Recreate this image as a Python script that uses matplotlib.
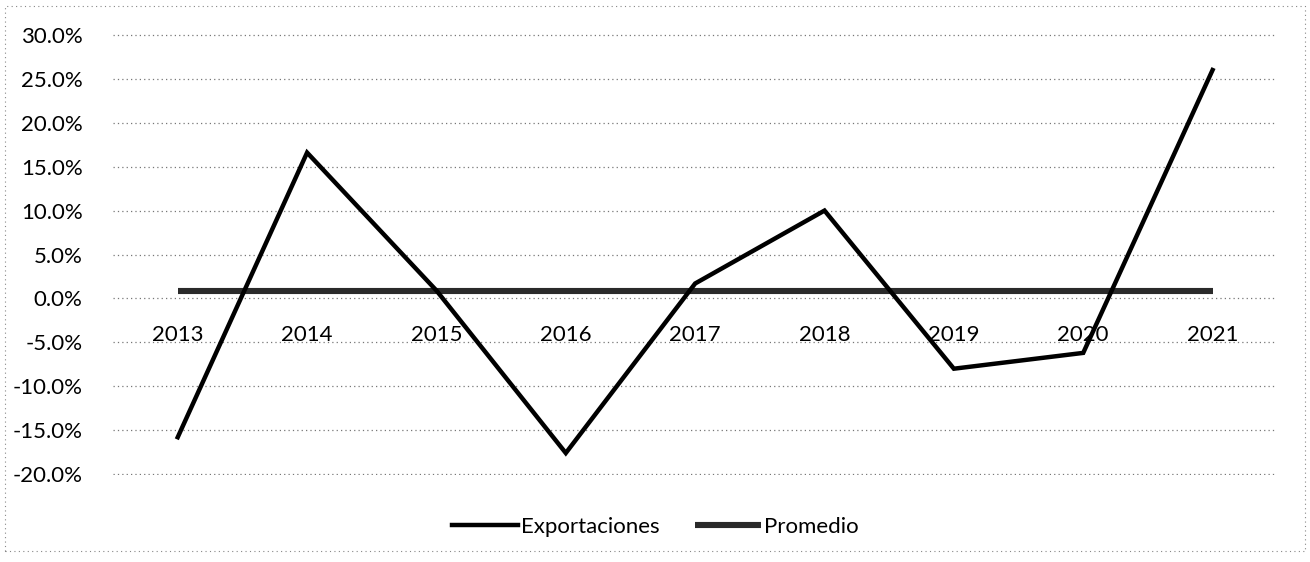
import matplotlib.pyplot as plt
from matplotlib.ticker import PercentFormatter
from matplotlib.patches import Rectangle

# Data
years = ['2013', '2014', '2015', '2016', '2017', '2018', '2019', '2020', '2021']
exportaciones = [-15.8, 16.6, 0.9, -17.6, 1.7, 10.0, -8.0, -6.2, 26.0]
promedio = [0.9] * len(years)
yticks = [30, 25, 20, 15, 10, 5, 0, -5, -10, -15, -20]

plt.rcParams['font.family'] = ['Lato', 'DejaVu Sans']
plt.rcParams['axes.unicode_minus'] = False

fig = plt.figure(figsize=(13.1, 5.62), dpi=100)
ax = fig.add_axes([0.0863, 0.1548, 0.8887, 0.7847])

x = range(len(years))
ax.plot(x, promedio, color='#2a2a2a', linewidth=4.4, solid_capstyle='butt',
        label='Promedio', zorder=2)
ax.plot(x, exportaciones, color='black', linewidth=3.2, solid_joinstyle='miter',
        label='Exportaciones', zorder=3)

ax.set_xlim(-0.5, len(years) - 0.5)
ax.set_ylim(-20.1, 30.1)
ax.set_yticks(yticks)
ax.yaxis.set_major_formatter(PercentFormatter(decimals=1))
ax.grid(axis='y', color='#777777', linestyle=(0, (1, 2.5)), linewidth=0.9)
ax.set_axisbelow(True)

# category labels sit next to the 0% line, like Excel does
ax.spines['bottom'].set_position(('data', 0))
ax.set_xticks(list(x))
ax.set_xticklabels(years, fontsize=16)
ax.tick_params(axis='x', length=0, pad=19)
ax.tick_params(axis='y', length=0, pad=22, labelsize=16)
for s in ax.spines.values():
    s.set_visible(False)

# legend below the plot, series order as in the original
h, l = ax.get_legend_handles_labels()
fig.legend([h[1], h[0]], [l[1], l[0]], loc='center', bbox_to_anchor=(0.5, 0.062),
           ncol=2, frameon=False, fontsize=16, handlelength=3.0,
           handletextpad=0.1, columnspacing=1.6)

# dotted chart border
fig.patches.append(Rectangle((0.004, 0.02), 0.992, 0.97, transform=fig.transFigure,
                             fill=False, edgecolor='#888888', linewidth=0.8,
                             linestyle=(0, (1, 3))))

fig.savefig('out.png', dpi=100)
